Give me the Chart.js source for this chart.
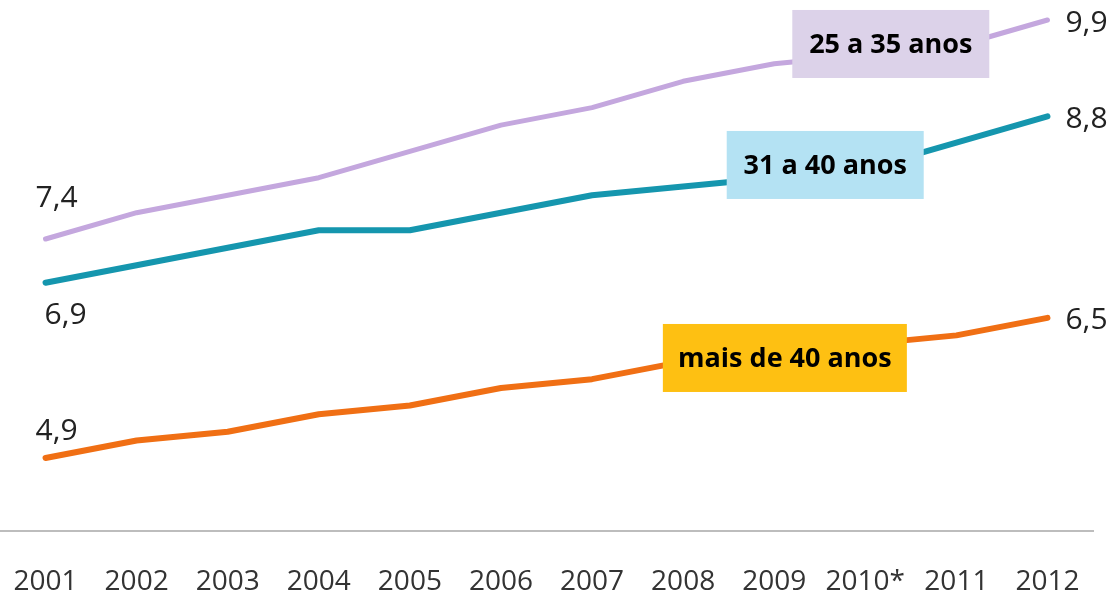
<!DOCTYPE html>
<html><head><meta charset="utf-8">
<script src="https://cdn.jsdelivr.net/npm/chart.js@4.4.1/dist/chart.umd.min.js"></script>
<style>html,body{margin:0;padding:0;background:#ffffff;} #wrap{width:1114px;height:592px;position:relative;}</style>
</head><body><div id="wrap"><canvas id="c"></canvas></div>
<script>
// ---- data ----
const years = ['2001','2002','2003','2004','2005','2006','2007','2008','2009','2010*','2011','2012'];
const seriesNames = ['25 a 35 anos','31 a 40 anos','mais de 40 anos'];
const values25a35 = [7.4, 7.7, 7.9, 8.1, 8.4, 8.7, 8.9, 9.2, 9.4, 9.5, 9.6, 9.9];
const values31a40 = [6.9, 7.1, 7.3, 7.5, 7.5, 7.7, 7.9, 8.0, 8.1, 8.2, 8.5, 8.8];
const valuesMais40 = [4.9, 5.1, 5.2, 5.4, 5.5, 5.7, 5.8, 6.0, 6.1, 6.2, 6.3, 6.5];

// ---- styles ----
const lineColors = ['#C4A7DE', '#1596AE', '#F06F14'];
const lineWidths = [5, 6, 6];
const boxColors = ['#DCD2E9', '#B4E2F3', '#FEC012'];
// annotation boxes: centre in (category index, value) space, size in px
const boxPlaces = [
  {xi: 9.28, v: 9.626, w: 197, h: 68},
  {xi: 8.56, v: 8.245, w: 197, h: 68},
  {xi: 8.117, v: 6.042, w: 244, h: 68}
];
// first-value label offsets (px from first point)
const startOffsets = [{dx: 11, dy: -41}, {dx: 20, dy: 33}, {dx: 11, dy: -27}];

Chart.defaults.font.family = "'Open Sans', 'Noto Sans', sans-serif";

const fmt = v => v.toFixed(1).replace('.', ',');

const labelPlugin = {
  id: 'labels',
  afterDatasetsDraw(chart) {
    const ctx = chart.ctx;
    const xs = chart.scales.x, ys = chart.scales.y;
    ctx.save();
    chart.data.datasets.forEach((ds, i) => {
      const meta = chart.getDatasetMeta(i);
      const p0 = meta.data[0], pN = meta.data[meta.data.length - 1];
      ctx.font = "30px 'Open Sans'";
      ctx.fillStyle = '#222222';
      ctx.textBaseline = 'middle';
      ctx.textAlign = 'center';
      ctx.fillText(fmt(ds.data[0]), p0.x + startOffsets[i].dx, p0.y + startOffsets[i].dy);
      ctx.textAlign = 'left';
      ctx.fillText(fmt(ds.data[ds.data.length - 1]), pN.x + 18, pN.y + 3);
      // annotation box
      const b = boxPlaces[i];
      const cx = xs.getPixelForValue(b.xi), cy = ys.getPixelForValue(b.v);
      ctx.fillStyle = boxColors[i];
      ctx.fillRect(cx - b.w / 2, cy - b.h / 2, b.w, b.h);
      ctx.fillStyle = '#000000';
      ctx.font = "bold 27px 'Open Sans'";
      ctx.textAlign = 'center';
      ctx.fillText(ds.label, cx, cy + 1);
    });
    ctx.restore();
  }
};

new Chart(document.getElementById('c'), {
  type: 'line',
  data: {
    labels: years,
    datasets: [values25a35, values31a40, valuesMais40].map((d, i) => ({
      label: seriesNames[i],
      data: d,
      borderColor: lineColors[i],
      backgroundColor: lineColors[i],
      borderWidth: lineWidths[i],
      pointRadius: 0,
      tension: 0,
      borderJoinStyle: 'round',
      borderCapStyle: 'round',
      fill: false
    }))
  },
  options: {
    responsive: true,
    maintainAspectRatio: false,
    animation: false,
    layout: {padding: {left: -3, right: 21, top: 0, bottom: 0}},
    plugins: {legend: {display: false}, tooltip: {enabled: false}},
    scales: {
      x: {
        offset: true,
        grid: {display: false},
        border: {display: true, color: '#BDBDBD', width: 2},
        ticks: {color: '#333333', font: {size: 28}, padding: 26, maxRotation: 0, autoSkip: false},
        afterFit(scale) { scale.height = 61; scale.paddingLeft = 0; scale.paddingRight = 0; }
      },
      y: {
        display: false,
        min: 4.067,
        max: 10.128
      }
    }
  },
  plugins: [labelPlugin]
});
</script>
</body></html>
